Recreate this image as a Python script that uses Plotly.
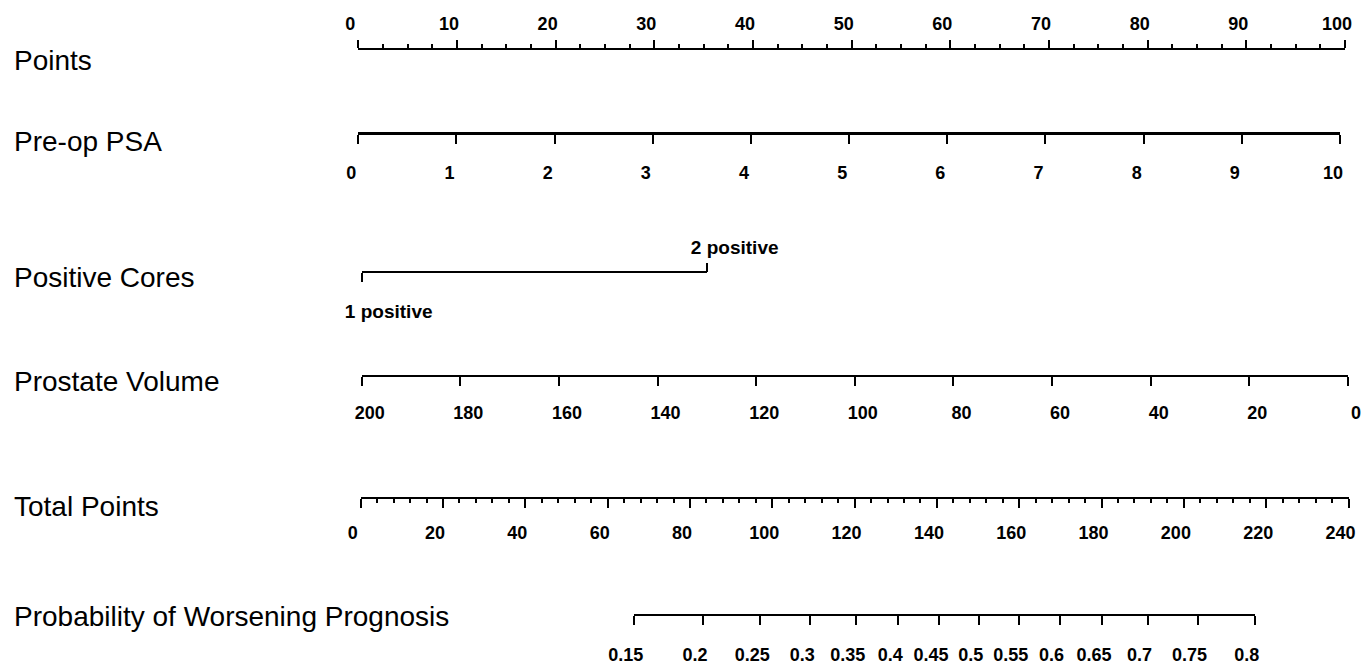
import math
import plotly.graph_objects as go

# ---------------- data ----------------
row_labels = ["Points", "Pre-op PSA", "Positive Cores", "Prostate Volume",
              "Total Points", "Probability of Worsening Prognosis"]

points_ticks = [0, 10, 20, 30, 40, 50, 60, 70, 80, 90, 100]
points_minor_step = 2.5

psa_ticks = [0, 1, 2, 3, 4, 5, 6, 7, 8, 9, 10]

cores_values = [1, 2]
cores_labels = ["1 positive", "2 positive"]

volume_ticks = [200, 180, 160, 140, 120, 100, 80, 60, 40, 20, 0]

total_ticks = [0, 20, 40, 60, 80, 100, 120, 140, 160, 180, 200, 220, 240]
total_minor_step = 4

prob_ticks = [0.15, 0.2, 0.25, 0.3, 0.35, 0.4, 0.45, 0.5, 0.55, 0.6, 0.65, 0.7, 0.75, 0.8]
prob_labels = ["0.15", "0.2", "0.25", "0.3", "0.35", "0.4", "0.45", "0.5",
               "0.55", "0.6", "0.65", "0.7", "0.75", "0.8"]

# linear predictor: logit(p) = lp_intercept + lp_slope * total_points
lp_intercept = -3.106
lp_slope = 0.02068

# ---------------- layout geometry (pixels) ----------------
W, H = 1372, 666
FONT = "Liberation Sans, Arial, sans-serif"


def tp_from_prob(p):
    return (math.log(p / (1 - p)) - lp_intercept) / lp_slope


prob_tp = [tp_from_prob(p) for p in prob_ticks]

# pixel extents of each scale line (x0, x1, y)
geo = {
    "points": (358.3, 1345.0, 49.3),
    "psa": (358.3, 1340.0, 133.3),
    "cores": (361.7, 706.7, 271.7),
    "volume": (361.7, 1348.0, 376.0),
    "total": (360.7, 1348.5, 498.0),
    "prob_y": 615.0,
}
label_y = [61, 142, 277, 382, 506, 616]


def dom(x0, x1):
    return [x0 / W, x1 / W]


def ypos(y):
    return 1 - y / H


tx0, tx1, _ = geo["total"]


def tp_px(v):
    return tx0 + (v - total_ticks[0]) / (total_ticks[-1] - total_ticks[0]) * (tx1 - tx0)


prob_dom = dom(tp_px(prob_tp[0]), tp_px(prob_tp[-1]))

tickfont = dict(family=FONT, size=18, color="black", weight="bold")

common = dict(
    anchor="free", showline=True, linecolor="black", linewidth=2,
    ticks="outside", tickcolor="black", tickwidth=2, ticklen=9,
    showgrid=False, zeroline=False, tickfont=tickfont, tickmode="array",
    fixedrange=True, automargin=False,
)

fig = go.Figure()

axes_specs = [
    ("x", [points_ticks[0], points_ticks[-1]]),
    ("x2", [psa_ticks[0], psa_ticks[-1]]),
    ("x3", [cores_values[0], cores_values[-1]]),
    ("x4", [cores_values[0], cores_values[-1]]),
    ("x5", [volume_ticks[0], volume_ticks[-1]]),
    ("x6", [total_ticks[0], total_ticks[-1]]),
    ("x7", [prob_tp[0], prob_tp[-1]]),
]
for ax, rng in axes_specs:
    fig.add_trace(go.Scatter(x=rng, y=[0.5, 0.5], xaxis=ax, yaxis="y",
                             mode="markers", marker=dict(opacity=0),
                             hoverinfo="skip", showlegend=False))

fig.update_layout(
    width=W, height=H,
    margin=dict(l=0, r=0, t=0, b=0, autoexpand=False),
    paper_bgcolor="white", plot_bgcolor="rgba(0,0,0,0)",
    showlegend=False,
    yaxis=dict(domain=[0, 1], range=[0, 1], visible=False, fixedrange=True,
               automargin=False),
    xaxis=dict(common, domain=dom(*geo["points"][:2]), position=ypos(geo["points"][2]),
               range=[points_ticks[0], points_ticks[-1]], side="top", ticklen=8,
               tickvals=points_ticks, ticktext=[str(v) for v in points_ticks],
               ticklabelshift=-8, ticklabelstandoff=3,
               minor=dict(ticks="outside", dtick=points_minor_step, tick0=0,
                          ticklen=4, tickwidth=2, tickcolor="black", showgrid=False)),
    xaxis2=dict(common, domain=dom(*geo["psa"][:2]), position=ypos(geo["psa"][2]),
                range=[psa_ticks[0], psa_ticks[-1]], linewidth=3,
                tickvals=psa_ticks, ticktext=[str(v) for v in psa_ticks],
                ticklabelshift=-7, ticklabelstandoff=13),
    xaxis3=dict(common, domain=dom(*geo["cores"][:2]), position=ypos(geo["cores"][2]),
                range=[cores_values[0], cores_values[-1]],
                tickvals=[cores_values[0]], ticktext=[cores_labels[0]],
                ticklabelshift=27, ticklabelstandoff=13,
                tickfont=dict(tickfont, size=19)),
    xaxis4=dict(common, domain=dom(*geo["cores"][:2]), position=ypos(geo["cores"][2]),
                range=[cores_values[0], cores_values[-1]], side="top", showline=False,
                tickvals=[cores_values[1]], ticktext=[cores_labels[1]],
                ticklabelshift=28, ticklabelstandoff=1,
                tickfont=dict(tickfont, size=19)),
    xaxis5=dict(common, domain=dom(*geo["volume"][:2]), position=ypos(geo["volume"][2]),
                range=[volume_ticks[0], volume_ticks[-1]],
                tickvals=volume_ticks, ticktext=[str(v) for v in volume_ticks],
                ticklabelshift=-8, ticklabelstandoff=11),
    xaxis6=dict(common, domain=dom(*geo["total"][:2]), position=ypos(geo["total"][2]),
                range=[total_ticks[0], total_ticks[-1]],
                tickvals=total_ticks, ticktext=[str(v) for v in total_ticks],
                ticklabelshift=-8, ticklabelstandoff=9,
                minor=dict(ticks="outside", dtick=total_minor_step, tick0=0,
                           ticklen=4, tickwidth=2, tickcolor="black", showgrid=False)),
    xaxis7=dict(common, domain=prob_dom, position=ypos(geo["prob_y"]),
                range=[prob_tp[0], prob_tp[-1]],
                tickvals=prob_tp, ticktext=prob_labels,
                ticklabelshift=-8, ticklabelstandoff=14),
)

for text, y in zip(row_labels, label_y):
    fig.add_annotation(text=text, xref="paper", yref="paper", x=12 / W, y=ypos(y),
                       xanchor="left", yanchor="middle", showarrow=False,
                       font=dict(family=FONT, size=28, color="black"))

fig.write_html("out.html",
               config={"displayModeBar": False, "staticPlot": True},
               post_script="document.body.style.margin='0px';"
                           "document.body.style.overflow='hidden';")
